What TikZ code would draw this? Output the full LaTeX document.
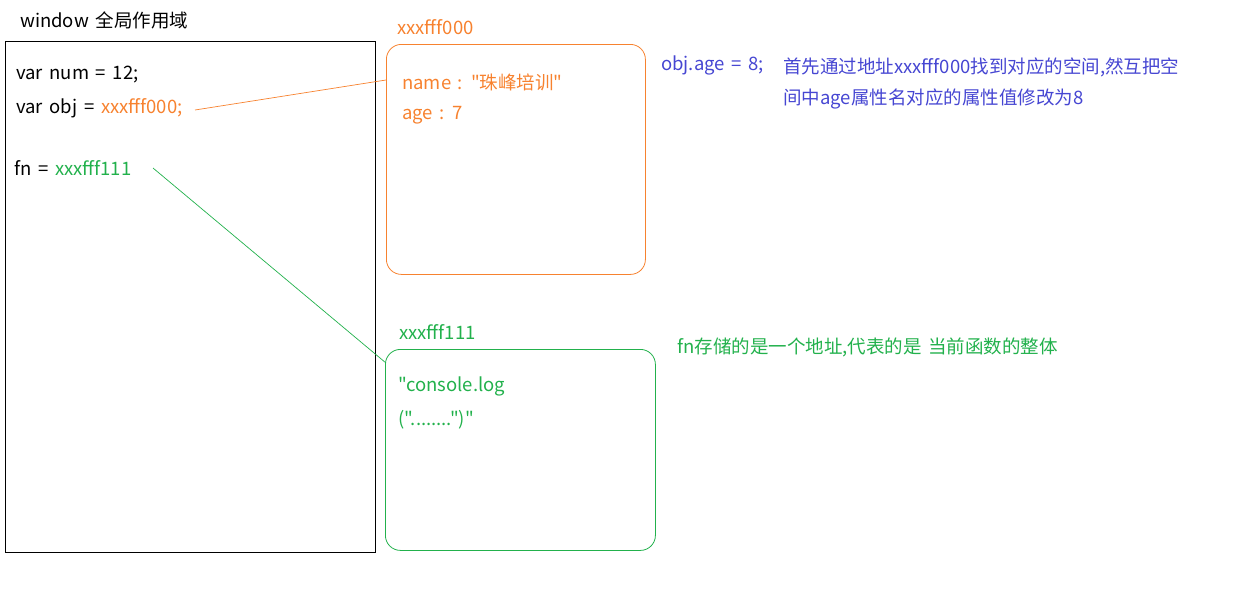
\documentclass[tikz,border=0pt]{standalone}
\usepackage{fontspec}
\newfontfamily\cjkfont{Noto Sans CJK SC}
\newcommand{\txtfont}{\cjkfont\fontsize{18.5}{22}\selectfont\spaceskip 0.36em\relax}
\definecolor{ora}{HTML}{F7822F}
\definecolor{grn}{HTML}{22B14C}
\definecolor{blu}{HTML}{4646D2}
\begin{document}
\begin{tikzpicture}[x=1pt,y=-1pt,
  txt/.style={inner sep=0pt,anchor=west,font=\txtfont},
  heap/.style={draw,rounded corners=15pt,line width=0.8pt},
  link/.style={line width=0.7pt}]
\useasboundingbox (0,0) rectangle (1260,590);
% window
\node[txt] (wtitle) at (20,20) {window 全局作用域};
\node[draw,line width=0.9pt,minimum width=370pt,minimum height=511pt,inner sep=0pt,anchor=north west] (win) at (5,41) {};
\node[txt] (num) at (16,75) {var num = 12;};
\node[txt] (obj) at (16,108) {var obj = \textcolor{ora}{xxxfff000;}};
\node[txt] (fn) at (14,168) {fn = \textcolor{grn}{xxxfff111}};
% orange heap
\node[txt,text=ora] (addr0) at (397,27) {xxxfff000};
\node[heap,draw=ora,minimum width=259pt,minimum height=230pt,inner sep=0pt,anchor=north west] (obox) at (386,44) {};
\node[txt,text=ora] (name) at (402,82) {name : "珠峰培训"};
\node[txt,text=ora] (age) at (402,115) {age : 7};
% green heap
\node[txt,text=grn] (addr1) at (399,332) {xxxfff111};
\node[heap,draw=grn,minimum width=270pt,minimum height=201pt,inner sep=0pt,anchor=north west] (gbox) at (385,349) {};
\node[txt,text=grn] (con1) at (398,386) {"console.log};
\node[txt,text=grn] (con2) at (398,420) {("........")"};
% notes
\node[txt,text=blu] (objage) at (661,65) {obj.age = 8;};
\node[txt,text=blu] (note1) at (783,67) {首先通过地址xxxfff000找到对应的空间,然互把空};
\node[txt,text=blu] (note2) at (783,99) {间中age属性名对应的属性值修改为8};
\node[txt,text=grn] (note3) at (677,347) {fn存储的是一个地址,代表的是 当前函数的整体};
% links
\coordinate (o1) at (195,110);
\coordinate (o2) at (386,80);
\coordinate (g1) at (153,168);
\coordinate (g2) at (386,363);
\draw[link,ora] (o1) -- (o2);
\draw[link,grn] (g1) -- (g2);
\end{tikzpicture}
\end{document}
